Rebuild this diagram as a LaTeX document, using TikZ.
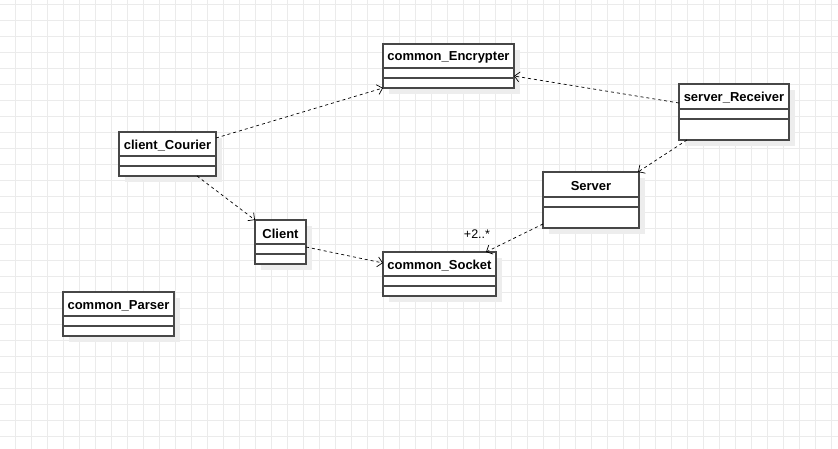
\documentclass[tikz,border=0pt]{standalone}
\usepackage{fontspec}
\setmainfont{Liberation Sans}
\usetikzlibrary{arrows.meta,calc}
\newcommand\umlcls[8]{%
  \fill[shadowc] (#2+6,#3+6) rectangle ++(#4,#5);
  \node[cls, minimum width=#4pt, minimum height=#5pt] (#1) at (#2,#3) {};
  \draw[clsline] ($(#1.north west)+(0,#6)$) -- ($(#1.north east)+(0,#6)$);
  \draw[clsline] ($(#1.north west)+(0,#7)$) -- ($(#1.north east)+(0,#7)$);
  \node[ttl] (#1-t) at ($(#1.north)+(0,#6/2+1.5)$) {#8};
}
\begin{document}
\begin{tikzpicture}[x=1pt,y=-1pt,
  cls/.style={draw=black!72, line width=1.1pt, inner sep=0pt, outer sep=0pt, anchor=north west, fill=white},
  clsline/.style={draw=black!72, line width=1.1pt},
  shadowc/.style={fill=black!7},
  ttl/.style={font=\fontsize{13}{15}\selectfont\bfseries, inner sep=0pt},
  gridline/.style={draw=black!8, line width=0.8pt},
  dep/.style={draw=black, line width=0.7pt, dash pattern=on 3pt off 3pt, -{Straight Barb[length=5pt,width=10pt]}},
  lbl/.style={font=\fontsize{12.5}{14}\selectfont, inner sep=0pt},
]
\useasboundingbox (0,0) rectangle (838,449);
\fill[white] (0,0) rectangle (838,449);
\foreach \i in {0,...,51} \draw[gridline] (15+16*\i,0) -- (15+16*\i,449);
\foreach \j in {0,...,27} \draw[gridline] (0,4+16*\j) -- (838,4+16*\j);

\umlcls{enc}{383}{44}{131}{44}{24}{34}{common\_Encrypter}
\umlcls{rec}{679}{84}{110}{56}{25}{35}{server\_Receiver}
\umlcls{cc}{119}{132}{97}{44}{24}{34}{client\_Courier}
\umlcls{cli}{255}{220}{51}{44}{24}{34}{Client}
\umlcls{sock}{383}{252}{113}{44}{24}{34}{common\_Socket}
\umlcls{srv}{543}{172}{96}{56}{25}{35}{Server}
\umlcls{par}{63}{292}{111}{44}{24}{34}{common\_Parser}

\draw[dep] ($(cc.north east)+(0,6)$) -- (enc.south west);
\draw[dep] ($(rec.north west)+(0,19)$) -- ($(enc.north east)+(0,32)$);
\draw[dep] ($(rec.south west)+(8,0)$) -- ($(srv.north east)+(-1,0)$);
\draw[dep] ($(cc.south west)+(78,0)$) -- (cli.north west);
\draw[dep] ($(cli.north east)+(0,27)$) -- ($(sock.north west)+(0,11)$);
\draw[dep] ($(srv.south west)+(0,-4)$) -- ($(sock.north east)+(-10,0)$);
\node[lbl] (mult) at (477,234) {+2..*};
\end{tikzpicture}
\end{document}
